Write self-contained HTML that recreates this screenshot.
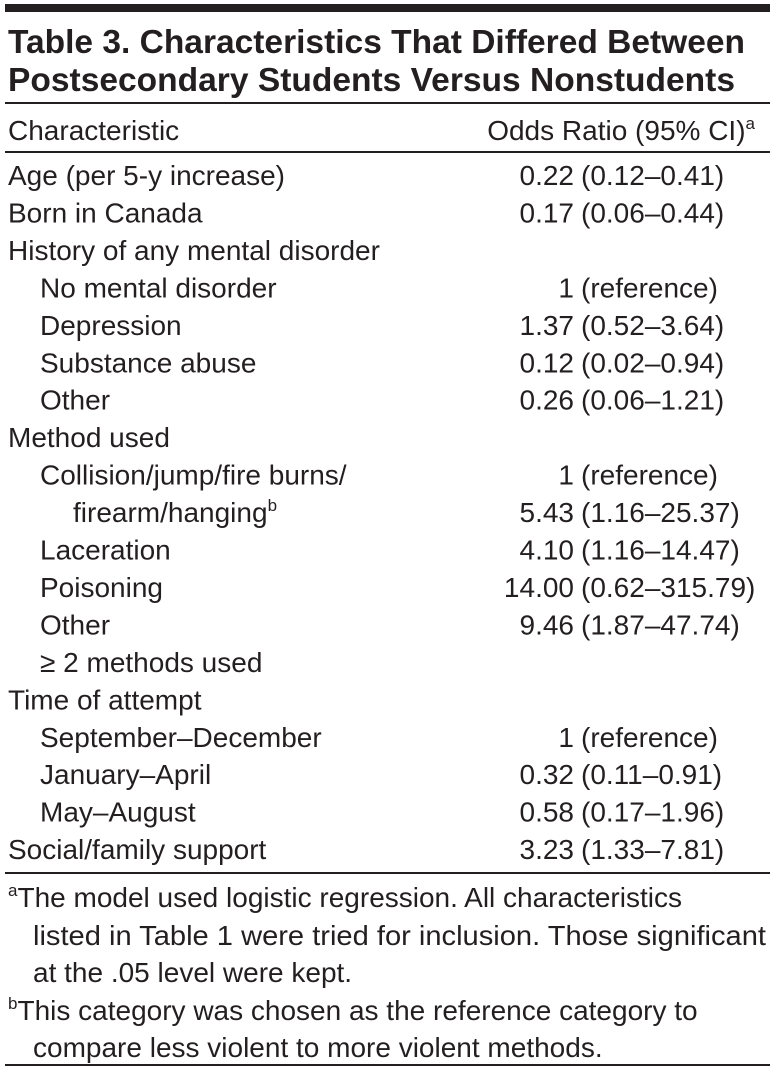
<!DOCTYPE html>
<html><head><meta charset="utf-8"><style>
html,body{margin:0;padding:0;background:#fff}
svg{display:block}
text{font-family:"Liberation Sans",sans-serif;fill:#231f20}
</style></head><body>
<svg id="t" width="774" height="1071" viewBox="0 0 774 1071" xmlns="http://www.w3.org/2000/svg">
<rect x="5" y="4" width="765" height="8" fill="#231f20"/>
<text x="8" y="53" font-size="33" font-weight="bold" textLength="737" lengthAdjust="spacingAndGlyphs">Table 3. Characteristics That Differed Between</text>
<text x="8" y="91" font-size="33" font-weight="bold" textLength="727" lengthAdjust="spacingAndGlyphs">Postsecondary Students Versus Nonstudents</text>
<rect x="5" y="102" width="765" height="2" fill="#231f20"/>
<text x="8" y="140" font-size="28">Characteristic</text>
<text x="755" y="140" font-size="28" text-anchor="end">Odds Ratio (95% CI)<tspan font-size="17" dy="-11">a</tspan></text>
<rect x="5" y="151" width="765" height="2" fill="#231f20"/>
<g id="rows"></g>
<rect x="5" y="872" width="765" height="2" fill="#231f20"/>
<g font-size="28">
<text x="8" y="907"><tspan font-size="17" dy="-11">a</tspan><tspan dy="11">The model used logistic regression. All characteristics</tspan></text>
<text x="33" y="945" textLength="733" lengthAdjust="spacingAndGlyphs">listed in Table 1 were tried for inclusion. Those significant</text>
<text x="33" y="982">at the .05 level were kept.</text>
<text x="8" y="1020"><tspan font-size="17" dy="-11">b</tspan><tspan dy="11">This category was chosen as the reference category to</tspan></text>
<text x="33" y="1057">compare less violent to more violent methods.</text>
</g>
<rect x="5" y="1064" width="765" height="2" fill="#231f20"/>
</svg>
<script>
const labels=["Age (per 5-y increase)","Born in Canada","History of any mental disorder","No mental disorder","Depression","Substance abuse","Other","Method used","Collision/jump/fire burns/","firearm/hanging","Laceration","Poisoning","Other","≥ 2 methods used","Time of attempt","September–December","January–April","May–August","Social/family support"];
const indents=[0,0,0,1,1,1,1,0,1,2,1,1,1,1,0,1,1,1,0];
const estimates=["0.22","0.17","","1","1.37","0.12","0.26","","1","5.43","4.10","14.00","9.46","","","1","0.32","0.58","3.23"];
const intervals=["(0.12–0.41)","(0.06–0.44)","","(reference)","(0.52–3.64)","(0.02–0.94)","(0.06–1.21)","","(reference)","(1.16–25.37)","(1.16–14.47)","(0.62–315.79)","(1.87–47.74)","","","(reference)","(0.11–0.91)","(0.17–1.96)","(1.33–7.81)"];
const NS="http://www.w3.org/2000/svg";
const g=document.getElementById('rows');
const indentX=[8,40,73];
labels.forEach((lab,i)=>{
  const y=185+i*37.45;
  const t=document.createElementNS(NS,'text');
  
  
  t.setAttribute('x',indentX[indents[i]]);t.setAttribute('y',y);t.setAttribute('font-size','28');
  if(lab==="firearm/hanging"){t.innerHTML='firearm/hanging<tspan font-size="17" dy="-11">b</tspan>';}
  else t.textContent=lab;
  g.appendChild(t);
  if(estimates[i]){
    const e=document.createElementNS(NS,'text');
    
    
    e.setAttribute('x','574');e.setAttribute('y',y);e.setAttribute('font-size','28');e.setAttribute('text-anchor','end');
    e.textContent=estimates[i];g.appendChild(e);
    const c=document.createElementNS(NS,'text');
    
    
    c.setAttribute('x','581');c.setAttribute('y',y);c.setAttribute('font-size','28');
    c.textContent=intervals[i];g.appendChild(c);
  }
});
</script>
</body></html>
